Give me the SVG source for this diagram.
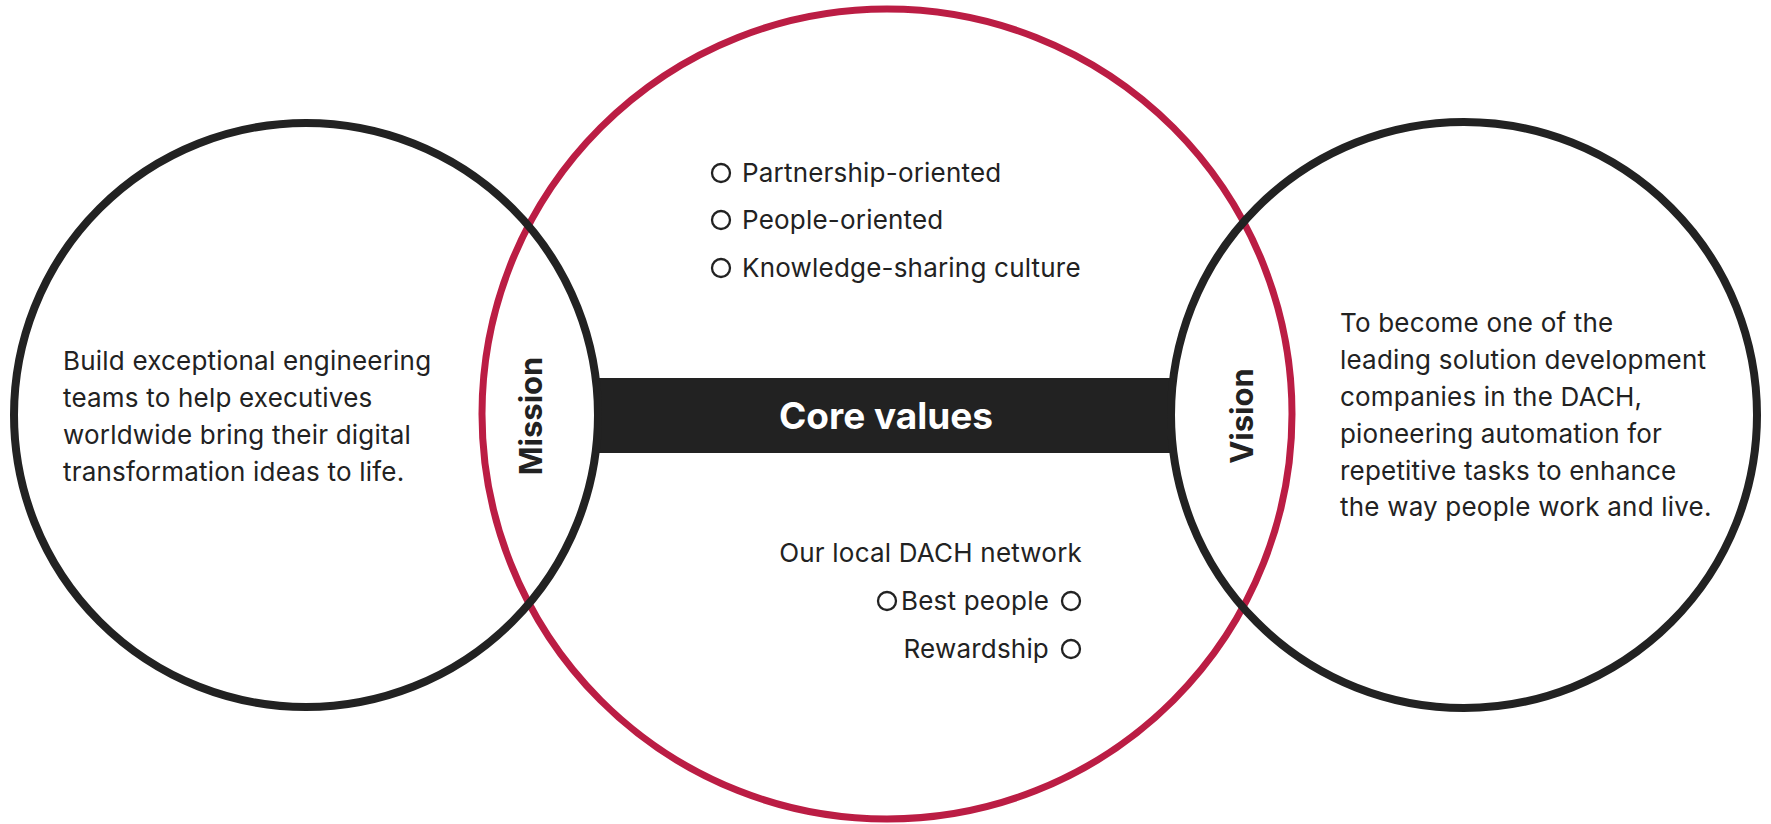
<svg xmlns="http://www.w3.org/2000/svg" width="1771" height="824" viewBox="0 0 1771 824">
<style>
.body{font-family:Inter,"Noto Sans",sans-serif;font-size:26px;letter-spacing:0.2px;fill:#222}
.lbl{font-family:Inter,"Noto Sans",sans-serif;font-size:31px;font-weight:700;fill:#222}
.title{font-family:Inter,"Noto Sans",sans-serif;font-size:37px;font-weight:700;fill:#fff}
.ring{fill:none;stroke:#222;stroke-width:8}
.red{fill:none;stroke:#BB1D44;stroke-width:7}
.dot{fill:none;stroke:#222;stroke-width:2.3}
</style>
<rect width="1771" height="824" fill="#fff"/>
<g id="core-bar">
<rect x="598" y="378" width="574" height="75" fill="#222"/>
<text class="title" x="886" y="429" text-anchor="middle">Core values</text>
</g>
<g id="core-values">
<circle class="red" cx="887" cy="414" r="405"/>
<circle class="dot" cx="721" cy="173" r="9"/>
<text class="body" x="742" y="182">Partnership-oriented</text>
<circle class="dot" cx="721" cy="220" r="9"/>
<text class="body" x="742" y="229">People-oriented</text>
<circle class="dot" cx="721" cy="268" r="9"/>
<text class="body" x="742" y="277">Knowledge-sharing culture</text>
<text class="body" x="1082" y="562" text-anchor="end">Our local DACH network</text>
<circle class="dot" cx="887" cy="601" r="9"/>
<text class="body" x="1049" y="610" text-anchor="end">Best people</text>
<circle class="dot" cx="1071" cy="601" r="9"/>
<text class="body" x="1049" y="658" text-anchor="end">Rewardship</text>
<circle class="dot" cx="1071" cy="649" r="9"/>
</g>
<g id="mission">
<circle class="ring" cx="306" cy="415" r="292"/>
<text class="body" x="63" y="370">Build exceptional engineering</text>
<text class="body" x="63" y="407">teams to help executives</text>
<text class="body" x="63" y="444">worldwide bring their digital</text>
<text class="body" x="63" y="481">transformation ideas to life.</text>
<text class="lbl" transform="translate(542 416) rotate(-90)" text-anchor="middle">Mission</text>
</g>
<g id="vision">
<circle class="ring" cx="1464" cy="415" r="293"/>
<text class="body" x="1340" y="332">To become one of the</text>
<text class="body" x="1340" y="369">leading solution development</text>
<text class="body" x="1340" y="406">companies in the DACH,</text>
<text class="body" x="1340" y="443">pioneering automation for</text>
<text class="body" x="1340" y="480">repetitive tasks to enhance</text>
<text class="body" x="1340" y="516">the way people work and live.</text>
<text class="lbl" transform="translate(1253 416) rotate(-90)" text-anchor="middle">Vision</text>
</g>
<g id="connectors"></g>
</svg>
